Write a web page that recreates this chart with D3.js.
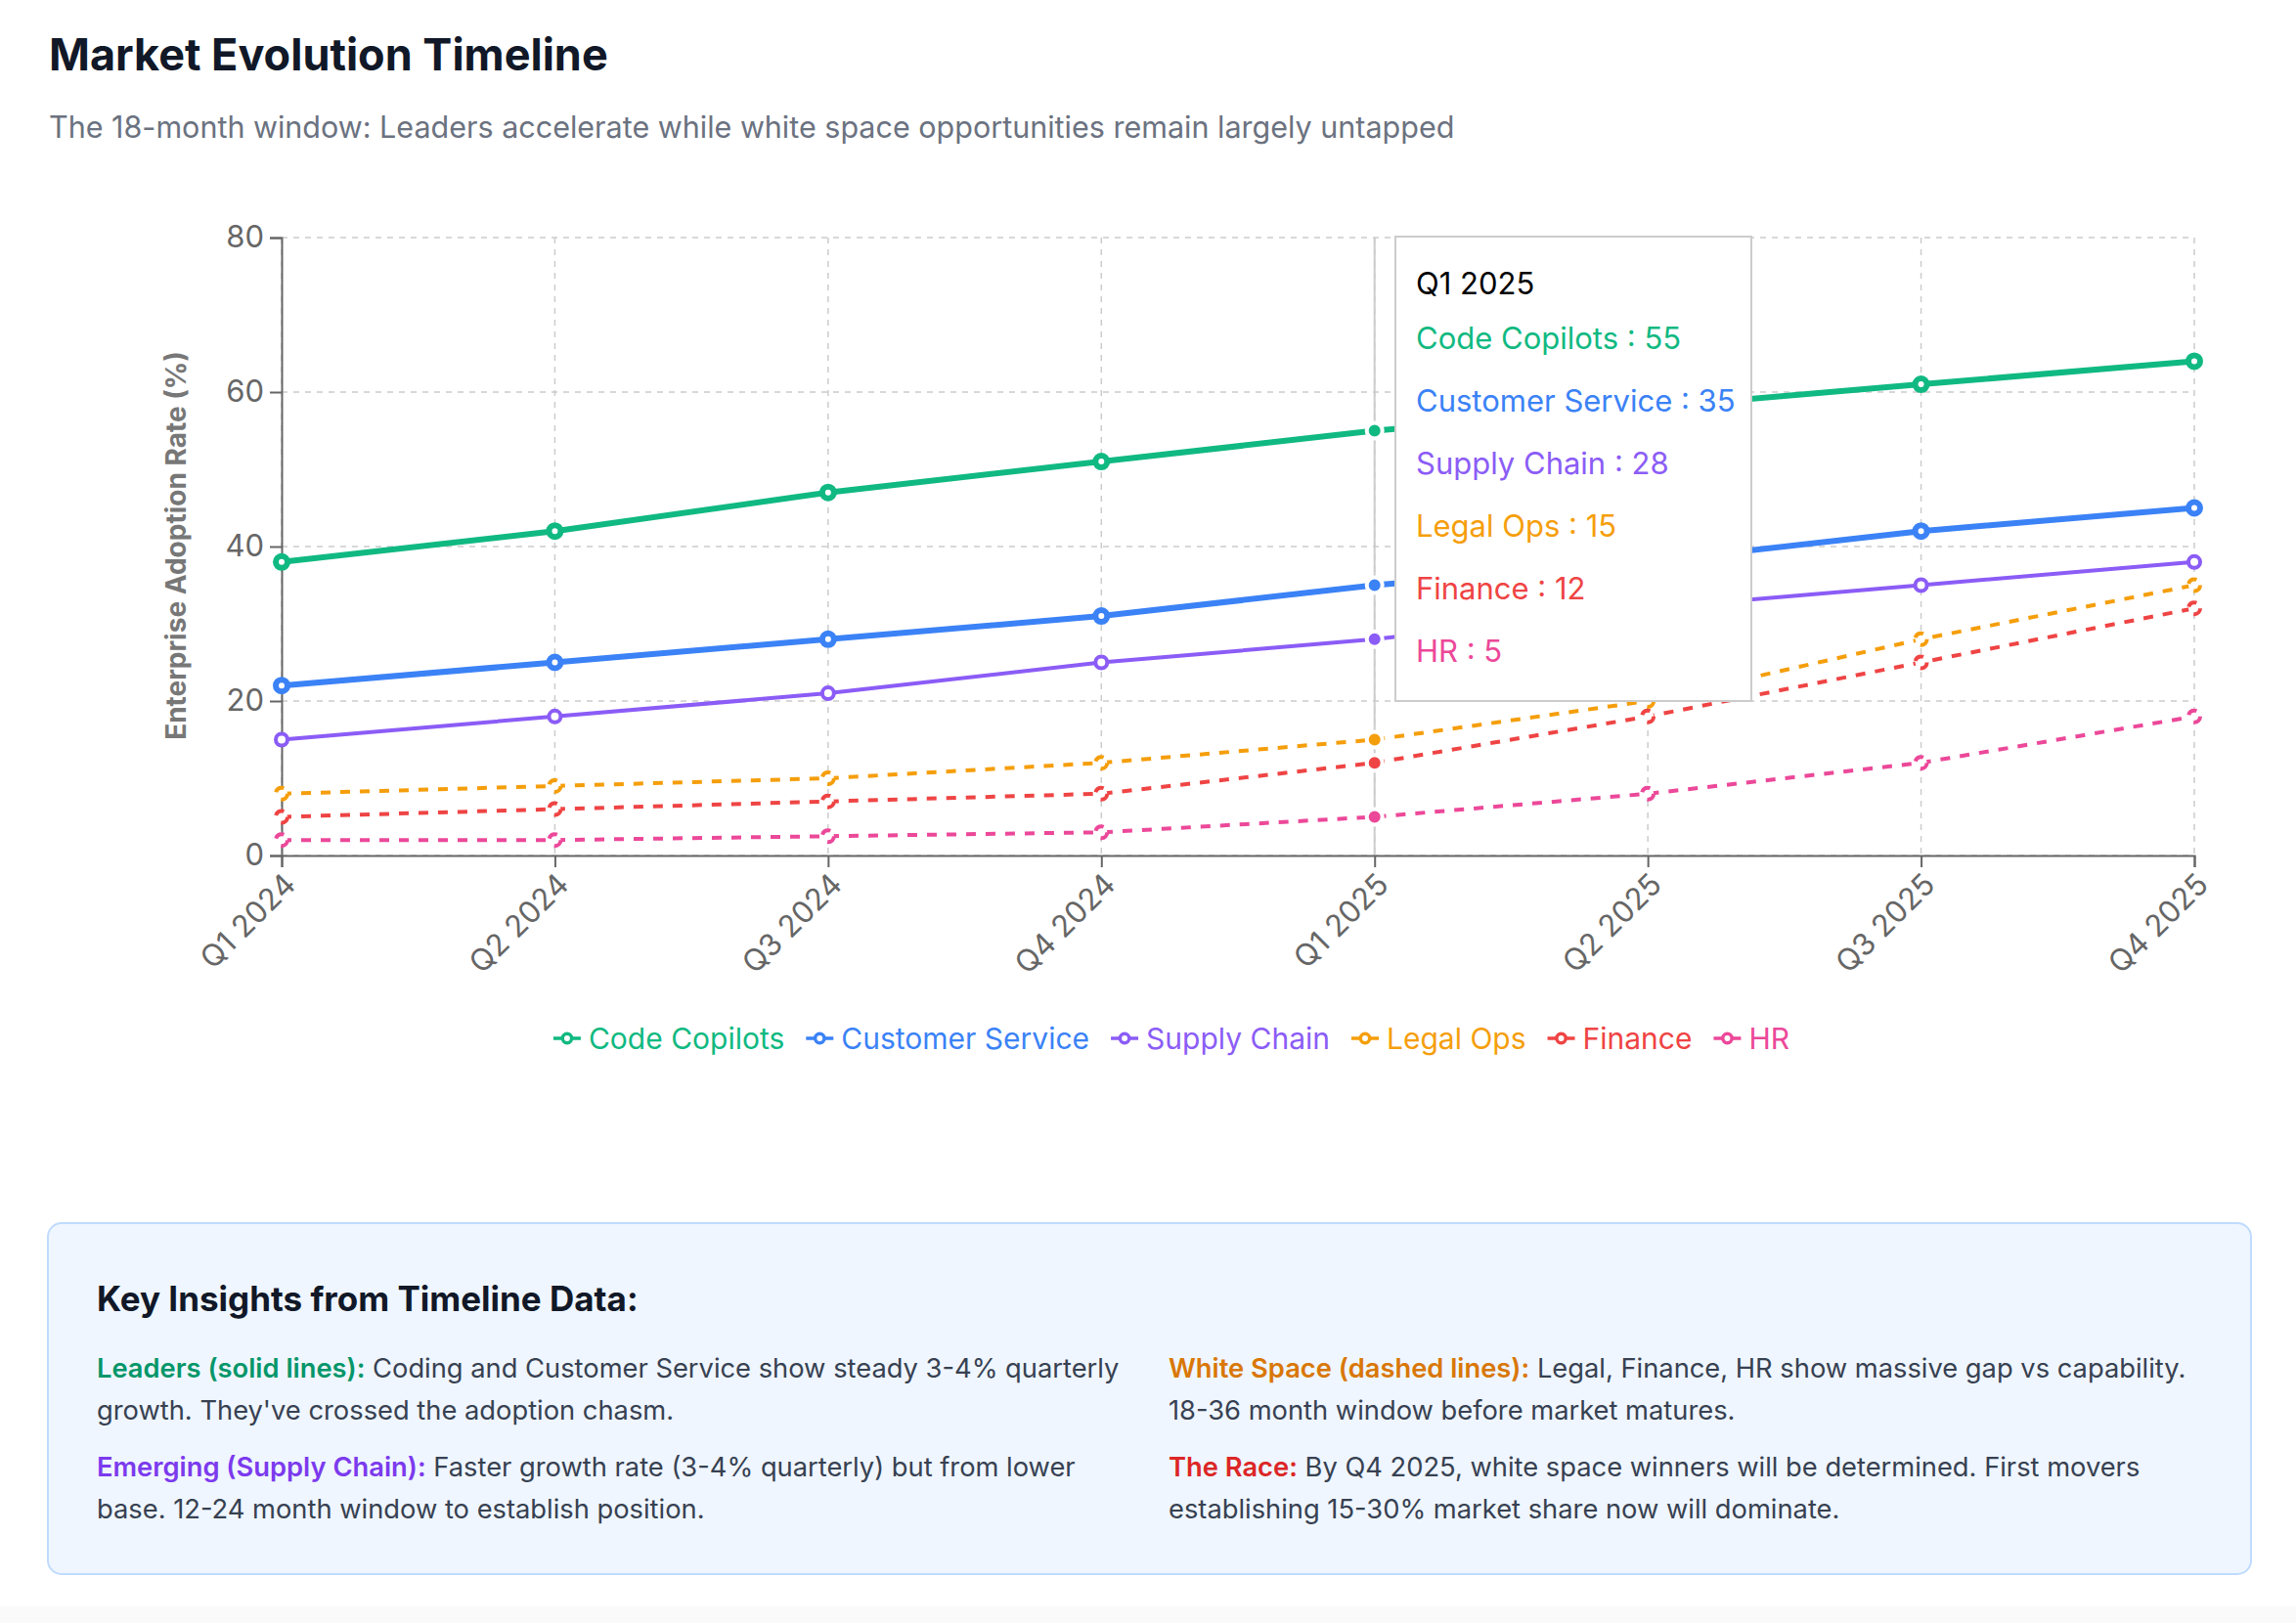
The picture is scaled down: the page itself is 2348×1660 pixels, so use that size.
<!DOCTYPE html>
<html>
<head>
<meta charset="utf-8">
<script src="https://cdn.jsdelivr.net/npm/d3@7"></script>
<style>
  html, body { margin: 0; padding: 0; background: #fafafa; }
  svg { display: block; font-family: Inter, "Noto Sans", sans-serif; }
</style>
</head>
<body>
<svg id="chart" width="2348" height="1660"></svg>
<script>
// chart data
var quarters = ['Q1 2024', 'Q2 2024', 'Q3 2024', 'Q4 2024', 'Q1 2025', 'Q2 2025', 'Q3 2025', 'Q4 2025'];
var codeCopilots = [38, 42, 47, 51, 55, 58, 61, 64];
var customerService = [22, 25, 28, 31, 35, 38, 42, 45];
var supplyChain = [15, 18, 21, 25, 28, 32, 35, 38];
var legalOps = [8, 9, 10, 12, 15, 20, 28, 35];
var finance = [5, 6, 7, 8, 12, 18, 25, 32];
var hr = [2, 2, 2.5, 3, 5, 8, 12, 18];
var yTicks = [0, 20, 40, 60, 80];
var activeIndex = 4; // the quarter the tooltip is open on

var titleText = 'Market Evolution Timeline';
var subtitleText = 'The 18-month window: Leaders accelerate while white space opportunities remain largely untapped';
var yLabel = 'Enterprise Adoption Rate (%)';
var insightsTitle = 'Key Insights from Timeline Data:';
var insightsLeft = [
  {head: 'Leaders (solid lines):', color: '#059669',
   lines: [' Coding and Customer Service show steady 3-4% quarterly', 'growth. They\'ve crossed the adoption chasm.']},
  {head: 'Emerging (Supply Chain):', color: '#7c3aed',
   lines: [' Faster growth rate (3-4% quarterly) but from lower', 'base. 12-24 month window to establish position.']}
];
var insightsRight = [
  {head: 'White Space (dashed lines):', color: '#d97706',
   lines: [' Legal, Finance, HR show massive gap vs capability.', '18-36 month window before market matures.']},
  {head: 'The Race:', color: '#dc2626',
   lines: [' By Q4 2025, white space winners will be determined. First movers', 'establishing 15-30% market share now will dominate.']}
];

var series = [
  {name: 'Code Copilots', values: codeCopilots, color: '#10b981', width: 6, dash: null},
  {name: 'Customer Service', values: customerService, color: '#3b82f6', width: 6, dash: null},
  {name: 'Supply Chain', values: supplyChain, color: '#8b5cf6', width: 4, dash: null},
  {name: 'Legal Ops', values: legalOps, color: '#f59e0b', width: 4, dash: '10 10'},
  {name: 'Finance', values: finance, color: '#ef4444', width: 4, dash: '10 10'},
  {name: 'HR', values: hr, color: '#ec4899', width: 4, dash: '10 10'}
];

var svg = d3.select('#chart');

// page card
svg.append('rect').attr('width', 2348).attr('height', 1643).attr('fill', '#fff');

svg.append('text')
  .attr('x', 50).attr('y', 72)
  .attr('font-size', 45).attr('font-weight', 700).attr('fill', '#111827')
  .text(titleText);
svg.append('text')
  .attr('x', 50).attr('y', 141)
  .attr('font-size', 30.5).attr('fill', '#6b7280')
  .text(subtitleText);

var margin = {left: 288, right: 2244, top: 243, bottom: 875};
var x = d3.scalePoint().domain(quarters).range([margin.left, margin.right]);
var y = d3.scaleLinear().domain([0, 80]).range([margin.bottom, margin.top]);

var g = svg.append('g');

// grid
g.append('g').selectAll('line').data(yTicks).join('line')
  .attr('x1', margin.left).attr('x2', margin.right)
  .attr('y1', function(d) { return y(d); }).attr('y2', function(d) { return y(d); })
  .attr('stroke', '#ccc').attr('stroke-width', 1.5).attr('stroke-dasharray', '6 6');
g.append('g').selectAll('line').data(quarters).join('line')
  .attr('x1', function(d) { return x(d); }).attr('x2', function(d) { return x(d); })
  .attr('y1', margin.top).attr('y2', margin.bottom)
  .attr('stroke', '#ccc').attr('stroke-width', 1.5).attr('stroke-dasharray', '6 6');

// tooltip cursor
g.append('line')
  .attr('x1', x(quarters[activeIndex])).attr('x2', x(quarters[activeIndex]))
  .attr('y1', margin.top).attr('y2', margin.bottom)
  .attr('stroke', '#ccc').attr('stroke-width', 2);

// axes
var xAxis = g.append('g')
  .attr('transform', 'translate(0,' + margin.bottom + ')')
  .call(d3.axisBottom(x).tickSize(12));
var yAxis = g.append('g')
  .attr('transform', 'translate(' + margin.left + ',0)')
  .call(d3.axisLeft(y).tickValues(yTicks).tickSize(12).tickPadding(6));

[xAxis, yAxis].forEach(function(a) {
  a.select('.domain').attr('stroke', '#666').attr('stroke-width', 2);
  a.selectAll('.tick line').attr('stroke', '#666').attr('stroke-width', 2);
  a.selectAll('.tick text').attr('fill', '#666').attr('font-size', 31)
    .attr('font-family', 'Inter, sans-serif');
});
// rotate the quarter labels round their tick end
xAxis.selectAll('.tick text')
  .attr('x', 0).attr('y', 16).attr('dy', '0.71em')
  .attr('text-anchor', 'end')
  .attr('transform', 'rotate(-45,0,16)');

svg.append('text')
  .attr('transform', 'translate(180,558) rotate(-90)')
  .attr('text-anchor', 'middle').attr('dominant-baseline', 'central')
  .attr('font-size', 28).attr('font-weight', 700).attr('fill', '#777')
  .text(yLabel);

// lines
var line = d3.line()
  .x(function(d, i) { return x(quarters[i]); })
  .y(function(d) { return y(d); });

series.forEach(function(s) {
  g.append('path')
    .datum(s.values)
    .attr('fill', 'none')
    .attr('stroke', s.color)
    .attr('stroke-width', s.width)
    .attr('stroke-dasharray', s.dash)
    .attr('d', line);
});

// dots, the hovered quarter gets the filled active dot instead
series.forEach(function(s) {
  var pts = s.values.map(function(v, i) { return {v: v, i: i}; })
    .filter(function(p) { return p.i !== activeIndex; });
  g.append('g').selectAll('circle').data(pts).join('circle')
    .attr('cx', function(p) { return x(quarters[p.i]); })
    .attr('cy', function(p) { return y(p.v); })
    .attr('r', 6)
    .attr('fill', '#fff')
    .attr('stroke', s.color)
    .attr('stroke-width', s.width)
    .attr('stroke-dasharray', s.dash);
});

series.forEach(function(s) {
  g.append('circle')
    .attr('cx', x(quarters[activeIndex]))
    .attr('cy', y(s.values[activeIndex]))
    .attr('r', 8)
    .attr('fill', s.color)
    .attr('stroke', '#fff')
    .attr('stroke-width', 4);
});

// tooltip
var tip = svg.append('g').attr('transform', 'translate(1427,242)');
tip.append('rect')
  .attr('width', 364).attr('height', 475)
  .attr('fill', '#fff').attr('stroke', '#ccc').attr('stroke-width', 2);
tip.append('text')
  .attr('x', 21).attr('y', 59)
  .attr('font-size', 31).attr('fill', '#000')
  .text(quarters[activeIndex]);
tip.selectAll('text.item').data(series).join('text')
  .attr('class', 'item')
  .attr('x', 21)
  .attr('y', function(d, i) { return 115 + i * 64; })
  .attr('font-size', 31)
  .attr('fill', function(d) { return d.color; })
  .text(function(d) { return d.name + ' : ' + d.values[activeIndex]; });

// legend
var legend = svg.append('g').attr('transform', 'translate(0,1062)');
var items = legend.selectAll('g').data(series).join('g');
items.append('line')
  .attr('x1', 0).attr('x2', 28).attr('y1', 0).attr('y2', 0)
  .attr('stroke', function(d) { return d.color; }).attr('stroke-width', 3.5);
items.append('circle')
  .attr('cx', 14).attr('cy', 0).attr('r', 4.7)
  .attr('fill', '#fff')
  .attr('stroke', function(d) { return d.color; }).attr('stroke-width', 3.5);
items.append('text')
  .attr('x', 36).attr('y', 0).attr('dy', '0.35em')
  .attr('font-size', 30)
  .attr('fill', function(d) { return d.color; })
  .text(function(d) { return d.name; });
var widths = [];
items.each(function() {
  widths.push(36 + d3.select(this).select('text').node().getComputedTextLength());
});
var gap = 22;
var total = d3.sum(widths) + gap * (widths.length - 1);
var cx = 1198 - total / 2;
items.attr('transform', function(d, i) {
  var p = cx;
  cx += widths[i] + gap;
  return 'translate(' + p + ',0)';
});

// insights box
svg.append('rect')
  .attr('x', 49).attr('y', 1251).attr('width', 2253).attr('height', 359)
  .attr('rx', 14)
  .attr('fill', '#eff6ff').attr('stroke', '#bfdbfe').attr('stroke-width', 2);
svg.append('text')
  .attr('x', 99).attr('y', 1341)
  .attr('font-size', 35).attr('font-weight', 700).attr('fill', '#111827')
  .text(insightsTitle);

function insightColumn(list, x0) {
  var baselines = [[1409, 1452], [1510, 1553]];
  list.forEach(function(p, k) {
    var t1 = svg.append('text')
      .attr('x', x0).attr('y', baselines[k][0])
      .attr('font-size', 27.3).attr('fill', '#374151');
    t1.append('tspan').attr('font-weight', 600).attr('fill', p.color).text(p.head);
    t1.append('tspan').attr('xml:space', 'preserve').text(p.lines[0]);
    svg.append('text')
      .attr('x', x0).attr('y', baselines[k][1])
      .attr('font-size', 27.3).attr('fill', '#374151')
      .text(p.lines[1]);
  });
}
insightColumn(insightsLeft, 99);
insightColumn(insightsRight, 1195);
</script>
</body>
</html>
